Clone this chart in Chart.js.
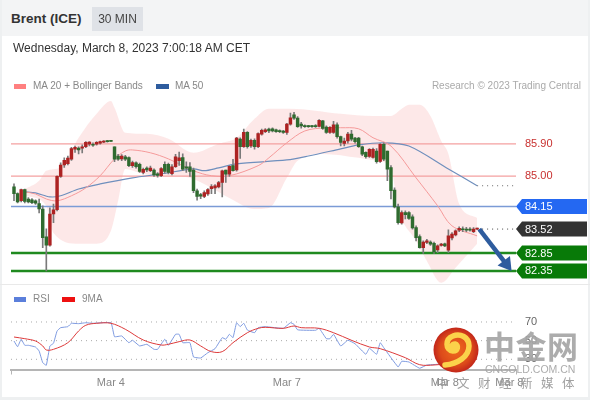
<!DOCTYPE html>
<html><head><meta charset="utf-8">
<script src="https://cdn.jsdelivr.net/npm/chart.js@4"></script>
<style>
html,body{margin:0;padding:0;background:#fff;overflow:hidden}
#wrap{position:relative;width:590px;height:400px;font-family:"Liberation Sans",Arial,sans-serif;overflow:hidden}
#wrap div,#wrap span{position:absolute;white-space:nowrap}
canvas{position:absolute;left:0;top:0}
</style></head><body>
<div id="wrap">
<canvas id="c" width="590" height="400"></canvas>
<div style="left:0;top:0;width:590px;height:36px;background:#f3f4f5"></div>
<div style="left:0;top:0;width:1.5px;height:400px;background:#eef0f1"></div>
<div style="left:588px;top:0;width:2px;height:400px;background:#eef0f1"></div>
<div style="left:0;top:397px;width:590px;height:3px;background:#eef0f1"></div>
<div style="left:0;top:284px;width:590px;height:1px;background:#e9e9e9"></div>
<span style="left:11px;top:11px;font-size:13.5px;font-weight:bold;color:#333">Brent (ICE)</span>
<div style="left:92px;top:7px;width:51px;height:24px;background:#dfe2e7;color:#444;font-size:12px;line-height:24px;text-align:center">30 MIN</div>
<span style="left:13px;top:41px;font-size:12px;color:#333">Wednesday, March 8, 2023 7:00:18 AM CET</span>
<div style="left:14px;top:84px;width:12px;height:5px;background:#ff8080"></div>
<span style="left:33px;top:80px;font-size:10px;color:#888">MA 20 + Bollinger Bands</span>
<div style="left:156px;top:84px;width:13px;height:5px;background:#2e5c9e"></div>
<span style="left:175px;top:80px;font-size:10px;color:#888">MA 50</span>
<span style="right:9px;top:80px;font-size:10px;color:#aaa">Research © 2023 Trading Central</span>
<div style="left:14px;top:297px;width:12px;height:5px;background:#5b7fdb"></div>
<span style="left:33px;top:293px;font-size:10px;color:#888">RSI</span>
<div style="left:62px;top:297px;width:13px;height:5px;background:#ee1111"></div>
<span style="left:82px;top:293px;font-size:10px;color:#888">9MA</span>
<svg style="position:absolute;left:433px;top:327px" width="46" height="46" viewBox="0 0 46 46">
<defs><radialGradient id="g" cx="50%" cy="50%" r="50%"><stop offset="0" stop-color="#f06a1e"/><stop offset=".7" stop-color="#dc4a1a"/><stop offset="1" stop-color="#c2261a"/></radialGradient></defs>
<circle cx="23" cy="23" r="22.5" fill="url(#g)"/>
<path d="M12 38 C24 37 36 30 36 19 C36 10 27 6 20 9 C12 12 12 23 20 24 C25 24 26 18 22 17 C19 17 18 20 20 21" fill="none" stroke="#fbd24a" stroke-width="5.5" stroke-linecap="round"/>
</svg>
<span style="left:484px;top:322px;font:bold 31px 'Noto Sans CJK SC';letter-spacing:0.5px;color:rgba(165,165,165,.92)">中金网</span>
<span style="left:485px;top:363px;font-size:10.5px;letter-spacing:0;color:rgba(165,165,165,.92)">CNGOLD.COM.CN</span>
<span style="left:436px;top:373px;font:12.5px 'Noto Sans CJK SC';letter-spacing:8.5px;color:rgba(150,150,150,.9)">中文财经新媒体</span>
</div>
<script>
// Candles, prices in USD, one per 30 minutes
const candleOpen=[84.70,84.51,84.31,84.62,84.36,84.34,84.31,84.23,84.08,83.30,83.07,83.94,84.06,84.99,85.31,85.35,85.47,85.75,85.78,85.78,85.82,85.89,85.89,85.89,85.92,85.95,85.98,85.98,
85.82,85.56,85.48,85.54,85.52,85.29,85.37,85.33,85.10,85.22,85.15,85.17,85.06,85.01,85.33,85.33,85.07,85.26,85.43,85.52,85.26,85.26,85.17,84.59,84.48,84.43,84.50,84.65,84.67,84.70,84.82,85.17,85.05,85.29,85.17,86.03,85.82,86.22,85.84,86.00,85.82,86.17,86.24,86.31,86.32,86.29,86.27,86.26,86.22,86.45,86.71,
86.62,86.45,86.41,86.41,86.40,86.41,86.39,86.54,86.37,86.22,86.22,86.43,86.10,85.91,85.98,86.17,86.06,86.06,85.82,85.66,85.55,85.52,85.70,85.41,85.89,85.70,85.24,84.61,84.14,83.69,83.98,83.98,83.86,83.56,83.31,83.00,83.15,83.16,83.12,82.94,83.06,83.11,82.93,83.27,83.36,83.49,83.53,83.52,83.52,83.45,83.52];
const candleHigh=[84.78,84.53,84.64,84.64,84.40,84.37,84.34,84.36,84.17,83.53,84.11,84.22,85.01,85.37,85.51,85.56,85.80,85.84,85.82,85.87,85.96,85.96,85.93,85.96,85.98,85.99,86.00,85.98,
85.82,85.61,85.60,85.58,85.54,85.42,85.40,85.36,85.22,85.26,85.28,85.20,85.10,85.24,85.40,85.36,85.32,85.61,85.67,85.62,85.40,85.38,85.22,84.64,84.52,84.59,84.65,84.76,84.76,84.85,85.17,85.17,85.29,85.47,86.08,86.07,86.31,86.24,86.03,86.04,86.21,86.31,86.33,86.34,86.35,86.31,86.29,86.28,86.47,86.76,86.78,
86.66,86.50,86.43,86.42,86.42,86.44,86.58,86.56,86.40,86.38,86.53,86.49,86.12,86.06,86.22,86.28,86.08,86.08,85.84,85.68,85.77,85.78,85.77,85.91,85.93,85.70,85.29,84.67,84.22,84.03,84.03,84.01,83.92,83.61,83.36,83.19,83.23,83.19,83.16,83.08,83.12,83.13,83.50,83.42,83.50,83.58,83.58,83.57,83.56,83.56,83.55];
const candleLow=[84.31,84.25,84.28,84.25,84.25,84.23,84.21,83.97,83.00,82.35,83.04,83.70,84.03,84.96,85.24,85.31,85.44,85.66,85.62,85.65,85.79,85.84,85.83,85.86,85.89,85.93,85.95,85.97,
85.40,85.44,85.43,85.43,85.26,85.24,85.22,85.10,85.06,85.12,85.12,84.99,84.97,84.98,85.08,85.06,85.03,85.24,85.30,85.15,85.10,84.99,84.54,84.33,84.37,84.40,84.46,84.51,84.51,84.67,84.42,84.82,84.99,85.14,85.14,85.49,85.80,85.78,85.80,85.75,85.79,86.14,86.21,86.21,86.23,86.22,86.21,86.19,86.16,86.42,86.58,
86.36,86.34,86.36,86.36,86.36,86.36,86.37,86.30,86.19,86.19,86.19,86.06,85.84,85.84,85.92,85.98,85.92,85.80,85.57,85.50,85.52,85.50,85.36,85.38,85.43,84.87,84.36,84.11,83.66,83.66,83.80,83.79,83.52,83.19,82.99,82.84,83.11,83.06,82.84,82.86,83.04,83.03,82.86,83.22,83.33,83.45,83.45,83.45,83.46,83.42,83.51];
const candleClose=[84.51,84.28,84.62,84.29,84.28,84.26,84.24,84.08,83.28,83.07,83.94,84.06,84.99,85.31,85.44,85.50,85.77,85.80,85.73,85.82,85.94,85.95,85.86,85.94,85.96,85.97,85.96,85.97,
85.47,85.47,85.56,85.47,85.29,85.38,85.26,85.13,85.19,85.17,85.22,85.03,85.02,85.21,85.13,85.10,85.26,85.54,85.51,85.19,85.22,85.13,84.59,84.43,84.44,84.54,84.62,84.71,84.73,84.82,85.15,85.05,85.27,85.15,86.06,85.82,86.22,85.82,86.00,85.82,86.19,86.28,86.29,86.26,86.26,86.24,86.24,86.22,86.45,86.63,86.62,
86.38,86.40,86.38,86.38,86.38,86.38,86.56,86.33,86.22,86.36,86.43,86.10,85.94,85.98,86.17,86.03,85.96,85.82,85.61,85.54,85.75,85.75,85.40,85.89,85.47,85.19,84.59,84.14,83.70,83.98,83.92,83.82,83.55,83.28,83.00,83.16,83.19,83.10,82.88,83.05,83.10,83.05,83.33,83.38,83.47,83.54,83.50,83.49,83.49,83.52,83.53];
// Overlays read at selected candles: [candle index, price]
const upperBand=[[3,84.64],[7,84.87],[9,85.15],[13,85.23],[18,86.07],[23,86.74],[27,87.10],[28,86.91],[31,86.21],[37,86.18],[43,86.04],[50,85.65],[57,85.90],[62,86.07],[67,86.60],[71,86.88],[77,86.88],[91,86.74],[100,86.68],[105,86.68],[108,86.88],[110,86.99],[113,86.99],[116,86.68],[119,85.98],[121,85.62],[124,84.22],[129,83.83]];
const lowerBand=[[3,84.45],[9,84.17],[10,83.75],[11,83.41],[18,83.11],[23,83.11],[27,83.47],[29,84.31],[31,85.20],[35,85.09],[39,85.01],[43,85.01],[49,84.95],[55,84.67],[60,84.39],[67,84.08],[71,84.11],[76,84.95],[79,85.43],[86,85.62],[96,85.51],[101,85.43],[105,85.23],[107,84.11],[112,83.19],[115,82.63],[119,82.02],[123,82.44],[129,83.11]];
const ma20=[[3,84.56],[6,84.50],[9,84.36],[12,84.31],[16,84.45],[20,84.67],[24,85.01],[28,85.48],[31,85.70],[33,85.73],[38,85.65],[43,85.48],[50,85.15],[55,85.01],[60,85.01],[68,85.29],[71,85.51],[76,85.93],[81,86.26],[87,86.35],[91,86.35],[96,86.32],[100,86.07],[105,85.84],[112,84.95],[118,84.17],[122,83.61],[129,83.33]];
const ma50=[[3,84.56],[6,84.53],[10,84.42],[13,84.45],[18,84.64],[24,84.78],[33,84.95],[41,85.06],[50,85.20],[53,85.15],[57,85.23],[62,85.34],[76,85.45],[82,85.56],[91,85.76],[96,85.87],[103,85.93],[110,85.84],[121,85.20],[129,84.73]];
const rsi=[[0,49.6],[1,43.5],[2,51.5],[3,45],[4,45],[6,43.2],[7,38.9],[8,26.4],[9,23.6],[10,44.3],[11,47.2],[12,60.4],[13,63.9],[15,65],[16,68.6],[18,68.2],[20,69.2],[22,68.6],[27,69.2],[28,54.2],[30,55],[32,47.8],[33,50.4],[35,44.3],[37,46.1],[39,40.7],[40,40.7],[42,51.5],[43,45],[45,56.8],[46,56.8],[47,47.8],[49,47.8],[50,32.5],[52,31.4],[54,37.1],[56,41.4],[58,53.2],[59,51.5],[60,56.8],[61,53.2],[62,69.2],[63,65],[64,68.6],[65,61.4],[67,58.5],[68,63.9],[70,65],[75,63.2],[77,69.2],[78,67.5],[79,61.6],[84,61.1],[85,63.2],[87,52.1],[88,52.1],[89,56.8],[91,44.3],[93,50.4],[95,46.7],[98,35.4],[99,41.8],[101,35.4],[102,47.8],[103,42.4],[107,21.8],[108,27.9],[110,27.1],[113,20.4],[115,23.9],[118,24.7],[121,30],[125,36.8],[129,41]];
const rsiMa=[[0,53.9],[3,52.1],[6,49.6],[8,44.3],[9,40],[11,40.7],[15,47.8],[18,60.4],[20,66.5],[23,68.6],[27,68.6],[31,62.2],[36,50.7],[41,45.3],[43,46.1],[46,48.9],[49,50.7],[52,44.3],[55,38.2],[58,38.2],[61,47.8],[65,58.5],[68,63.2],[70,64.3],[75,63.2],[78,65.7],[80,63.9],[85,63.2],[89,58.5],[94,50.4],[99,43.2],[102,41.4],[109,31.7],[113,24.2],[117,23.9],[121,25.5],[129,30.3]];
// Price levels
const resistance=[85.90,85.00];
const pivot=84.15;
const lastPrice=83.52;
const support=[82.85,82.35];
const ma50End=84.73;
const rsiLevels=[70,50,30];
const tickIndex=[27,76,120,138];
const tickLabels=['Mar 4','Mar 7','Mar 8','Mar 8'];

const X_MIN=-0.836,X_MAX=139.83,LAST=129;
const pts=a=>a.map(p=>({x:p[0],y:p[1]}));
const span=(v,a=X_MIN,b=X_MAX)=>[{x:a,y:v},{x:b,y:v}];
const idx=candleOpen.map((_,i)=>i);
const RED='#ad2222',GREEN='#2f6b2f',WICK='#7a7a7a';
const hline=(v,col,w,order,extra={},axis='y',a,b)=>Object.assign({type:'line',data:span(v,a,b),borderColor:col,borderWidth:w,pointRadius:0,order,yAxisID:axis},extra);
const datasets=[
 {type:'line',data:pts(upperBand),yAxisID:'y',borderWidth:0,pointRadius:0,cubicInterpolationMode:'monotone',fill:'+1',backgroundColor:'rgba(250,200,200,.42)',order:30},
 {type:'line',data:pts(lowerBand),yAxisID:'y',borderWidth:0,pointRadius:0,cubicInterpolationMode:'monotone',fill:false,order:30},
 ...resistance.map(v=>hline(v,'#f4a0a0',1.4,20)),
 hline(pivot,'#7b9bd6',1.6,20),
 ...support.map(v=>hline(v,'#1f8a1f',2.6,20)),
 {type:'line',data:pts(ma20),yAxisID:'y',borderColor:'#f59a9a',borderWidth:1,pointRadius:0,tension:.35,order:15},
 {type:'line',data:pts(ma50),yAxisID:'y',borderColor:'#6f8fbd',borderWidth:1.2,pointRadius:0,tension:.3,order:15},
 hline(ma50End,'#666',1,15,{borderDash:[1,4]},'y',LAST,X_MAX-.5),
 hline(lastPrice,'#444',1,15,{borderDash:[1,4]},'y',LAST,X_MAX-.5),
 {type:'bar',grouped:false,data:idx.map(i=>({x:i,y:[candleLow[i],candleHigh[i]]})),yAxisID:'y',backgroundColor:WICK,barThickness:1,order:6},
 {type:'bar',grouped:false,data:idx.map(i=>({x:i,y:[Math.min(candleOpen[i],candleClose[i]),Math.max(candleOpen[i],candleClose[i])]})),yAxisID:'y',
  backgroundColor:idx.map(i=>candleClose[i]>=candleOpen[i]?RED:GREEN),barThickness:2.8,minBarLength:1,order:5},
 ...rsiLevels.map(v=>hline(v,'#aaa',1,12,{borderDash:[1,4]},'rsiAxis')),
 {type:'line',data:pts(rsi),yAxisID:'rsiAxis',borderColor:'#7f9be0',borderWidth:1,pointRadius:0,tension:.1,order:4},
 {type:'line',data:pts(rsiMa),yAxisID:'rsiAxis',borderColor:'#dd3a3a',borderWidth:1,pointRadius:0,tension:.35,order:3}
];
const tags={id:'tags',afterDatasetsDraw(ch){
 const c=ch.ctx,y=ch.scales.y,r=ch.scales.rsiAxis,x=ch.scales.x;
 c.save();c.textBaseline='middle';c.textAlign='left';c.font='11px "Liberation Sans"';
 c.fillStyle='#c8302f';resistance.forEach(v=>c.fillText(v.toFixed(2),525,y.getPixelForValue(v)));
 const tag=(v,col)=>{const p=y.getPixelForValue(v);c.fillStyle=col;c.beginPath();c.moveTo(516,p);c.lineTo(522,p-7.5);c.lineTo(587,p-7.5);c.lineTo(587,p+7.5);c.lineTo(522,p+7.5);c.closePath();c.fill();c.fillStyle='#fff';c.fillText(v.toFixed(2),525,p+.5);};
 tag(pivot,'#2468f2');tag(lastPrice,'#333');support.forEach(v=>tag(v,'#087a08'));
 c.fillStyle='#666';rsiLevels.forEach(v=>c.fillText(String(v),525,r.getPixelForValue(v)));
 // forecast arrow from the last price toward the lowest support
 const x0=x.getPixelForValue(LAST+.6),y0=y.getPixelForValue(lastPrice),x1=x.getPixelForValue(138.6),y1=y.getPixelForValue(support[1]),a=Math.atan2(y1-y0,x1-x0);
 c.strokeStyle=c.fillStyle='#2e5c9e';c.lineWidth=4.5;c.beginPath();c.moveTo(x0,y0);c.lineTo(x1-10*Math.cos(a),y1-10*Math.sin(a));c.stroke();
 c.beginPath();c.moveTo(x1,y1);c.lineTo(x1-15*Math.cos(a-.55),y1-15*Math.sin(a-.55));c.lineTo(x1-15*Math.cos(a+.55),y1-15*Math.sin(a+.55));c.closePath();c.fill();
 c.restore();
}};
new Chart(document.getElementById('c'),{
 data:{datasets},
 plugins:[tags],
 options:{responsive:false,animation:false,devicePixelRatio:1,
  layout:{padding:{left:11,right:74,top:90,bottom:0}},
  plugins:{legend:{display:false},tooltip:{enabled:false}},
  scales:{
   x:{type:'linear',offset:false,min:X_MIN,max:X_MAX,
    afterBuildTicks(s){s.ticks=[X_MIN,...tickIndex,X_MAX].map(v=>({value:v}));},
    afterFit(s){s.height=30.5;},
    ticks:{autoSkip:false,maxRotation:0,padding:2,color:'#888',font:{size:11,family:'Liberation Sans'},
     callback(v){const k=tickIndex.indexOf(v);return k<0?'':tickLabels[k];}},
    border:{display:true,color:'#b5b5b5',width:2},
    grid:{display:true,offset:false,drawOnChartArea:false,drawTicks:true,tickLength:5,tickWidth:1,lineWidth:1,color:'#b5b5b5',
     tickColor:ctx=>(ctx.tick&&tickIndex.includes(ctx.tick.value))?'rgba(0,0,0,0)':'#b5b5b5'}},
   y:{type:'linear',display:false,min:79.598,max:87.404},
   rsiAxis:{type:'linear',axis:'y',display:false,min:19.07,max:318.67}
  }}
});
</script>
</body></html>
